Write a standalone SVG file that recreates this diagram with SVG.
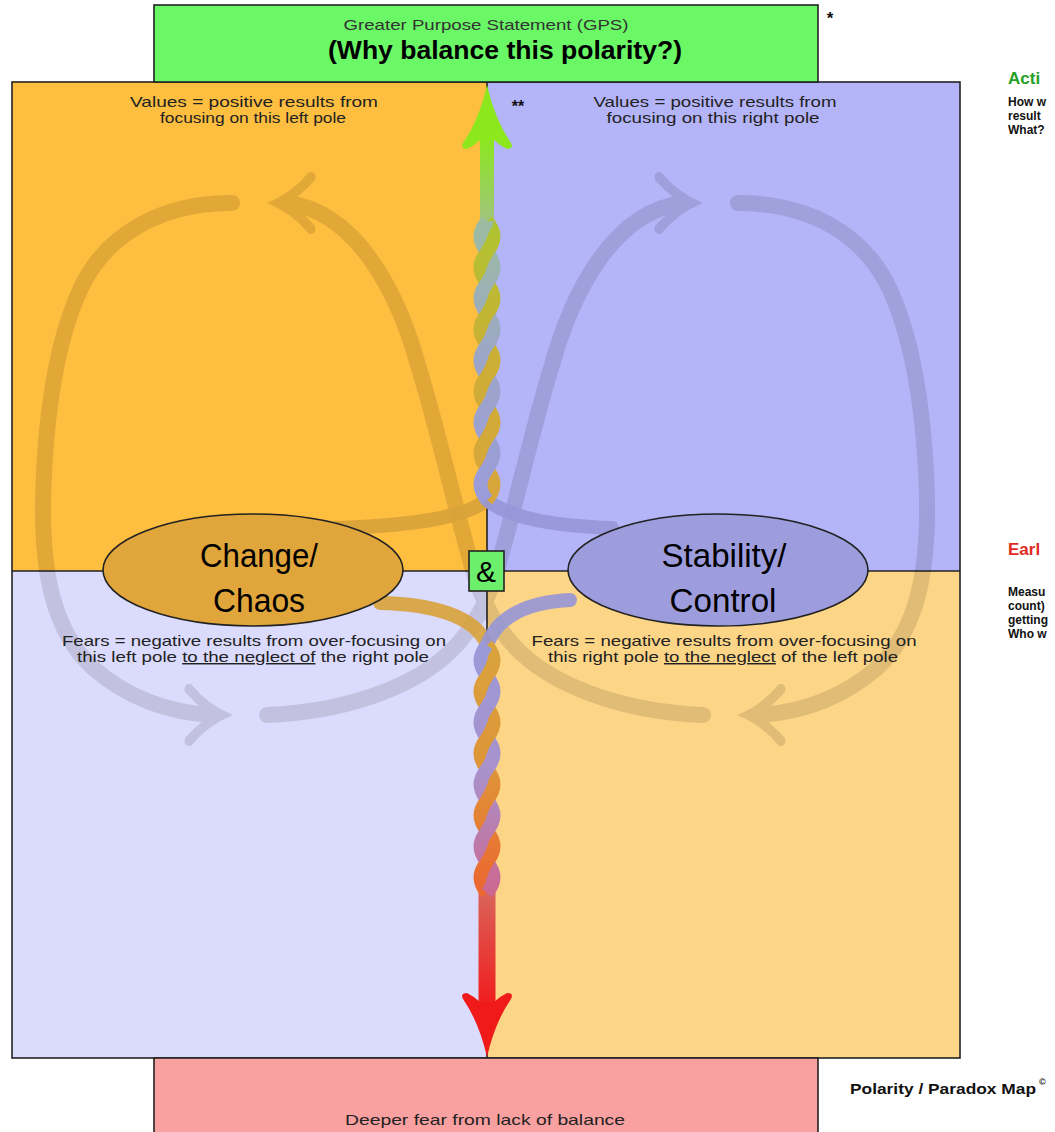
<svg xmlns="http://www.w3.org/2000/svg" width="1055" height="1132" viewBox="0 0 1055 1132">
<defs>
<style>
text{font-family:"Liberation Sans",Arial,sans-serif;}
.t{font-size:14.5px;fill:#222;}
.pole{font-family:"Liberation Sans Narrow","Liberation Sans",Arial,sans-serif;font-size:34px;fill:#000;}
.side{font-size:12px;font-weight:bold;fill:#111;}
.loop{fill:none;stroke:#000;stroke-width:16;stroke-linecap:round;}
.conn{fill:none;stroke-width:14;stroke-linecap:round;opacity:0.9;}
.strand{fill:none;stroke-width:13.5;}
.edge{stroke:#222;stroke-width:1.6;}
</style>
<path id="ah" d="M0,0 Q25,-10 42,-31 Q50,-32 48,-23 Q38,-12 30,-6 L30,6 Q38,12 48,23 Q50,32 42,31 Q25,10 0,0 Z"/>
<path id="vh" d="M0,0 Q8,35 24,58 Q27,64 20,64 Q12,60 7,55 L-7,55 Q-12,60 -20,64 Q-27,64 -24,58 Q-8,35 0,0 Z"/>
<linearGradient id="gUp" x1="0" y1="235" x2="0" y2="140" gradientUnits="userSpaceOnUse">
<stop offset="0" stop-color="#A4BE8C"/><stop offset="1" stop-color="#8CE620"/></linearGradient>
<linearGradient id="gDn" x1="0" y1="885" x2="0" y2="1000" gradientUnits="userSpaceOnUse">
<stop offset="0" stop-color="#D8685E"/><stop offset="1" stop-color="#F02020"/></linearGradient>
<linearGradient id="gA" x1="0" y1="500" x2="0" y2="221" gradientUnits="userSpaceOnUse">
<stop offset="0" stop-color="#D9A53C"/><stop offset="0.5" stop-color="#CCAE36"/><stop offset="1" stop-color="#AEC430"/></linearGradient>
<linearGradient id="gB" x1="0" y1="500" x2="0" y2="221" gradientUnits="userSpaceOnUse">
<stop offset="0" stop-color="#9A9CDA"/><stop offset="0.5" stop-color="#9CA6C8"/><stop offset="1" stop-color="#9CBCA0"/></linearGradient>
<linearGradient id="gC" x1="0" y1="645" x2="0" y2="893" gradientUnits="userSpaceOnUse">
<stop offset="0" stop-color="#D9A33C"/><stop offset="0.5" stop-color="#DE9438"/><stop offset="1" stop-color="#EC6630"/></linearGradient>
<linearGradient id="gD" x1="0" y1="645" x2="0" y2="893" gradientUnits="userSpaceOnUse">
<stop offset="0" stop-color="#9A9AD8"/><stop offset="0.5" stop-color="#A892CC"/><stop offset="1" stop-color="#CC6890"/></linearGradient>
</defs>

<g id="quadrants">
<rect x="12" y="82" width="475" height="489" fill="#FEBE40"/>
<rect x="487" y="82" width="473" height="489" fill="#B4B4F9"/>
<rect x="12" y="571" width="475" height="487" fill="#DBDBFD"/>
<rect x="487" y="571" width="473" height="487" fill="#FDD587"/>
<rect x="12" y="82" width="948" height="976" fill="none" class="edge" stroke-width="2"/>
<line x1="487" y1="82" x2="487" y2="1058" class="edge"/>
<line x1="12" y1="571" x2="960" y2="571" class="edge"/>
</g>

<g id="infinity" opacity="0.11" fill="#000">
<path class="loop" d="M232,203 C160,203 105,235 80,290 C55,345 45,420 43,500 C42,570 52,630 93,668 C128,698 170,713 213,715"/>
<path class="loop" d="M267,715 C340,712 410,690 450,652 C475,628 492,595 502,552 C518,495 532,430 552,365 C570,300 610,212 683,203"/>
<path class="loop" d="M738,203 C810,203 865,235 890,290 C915,345 925,420 927,500 C928,570 918,630 877,668 C842,698 800,713 757,715"/>
<path class="loop" d="M703,715 C630,712 560,690 520,652 C495,628 478,595 468,552 C452,495 438,430 418,365 C400,300 360,212 287,203"/>
<use href="#ah" transform="translate(267,203)"/>
<use href="#ah" transform="translate(703,203) scale(-1,1)"/>
<use href="#ah" transform="translate(233,715) scale(-1,1)"/>
<use href="#ah" transform="translate(737,715)"/>
</g>

<g id="connectors">
<path class="conn" stroke="#D8A23A" d="M335,528 C400,526 462,520 487,500"/>
<path class="conn" stroke="#9696D8" d="M612,528 C560,526 512,520 487,500"/>
<path class="conn" stroke="#D8A23A" d="M380,603 C430,604 475,615 487,645"/>
<path class="conn" stroke="#9696D8" d="M570,600 C530,602 498,615 487,645"/>
</g>

<g id="rope-up">
<line x1="487" y1="232" x2="487" y2="140" stroke="url(#gUp)" stroke-width="14" stroke-linecap="round"/>
<path class="strand" stroke="url(#gA)" d="M487,500 Q500,484.5 487,469 T487,438 T487,407 T487,376 T487,345 T487,314 T487,283 T487,252 T487,221"/>
<path class="strand" stroke="url(#gB)" d="M487,500 Q474,484.5 487,469 T487,438 T487,407 T487,376 T487,345 T487,314 T487,283 T487,252 T487,221"/>
<path class="strand" stroke="url(#gB)" d="M480.5,484.5 C480.5,474.2 493.5,463.8 493.5,453.5 M480.5,422.5 C480.5,412.2 493.5,401.8 493.5,391.5 M480.5,360.5 C480.5,350.2 493.5,339.8 493.5,329.5 M480.5,298.5 C480.5,288.2 493.5,277.8 493.5,267.5 M480.5,236.5 C480.5,230 487,225 487,221"/>
<path class="strand" stroke="url(#gA)" d="M480.5,453.5 C480.5,443.2 493.5,432.8 493.5,422.5 M480.5,391.5 C480.5,381.2 493.5,370.8 493.5,360.5 M480.5,329.5 C480.5,319.2 493.5,308.8 493.5,298.5 M480.5,267.5 C480.5,257.2 493.5,246.8 493.5,236.5"/>
<use href="#vh" transform="translate(487,85)" fill="#8CE81C"/>
</g>

<g id="rope-down">
<line x1="487" y1="888" x2="487" y2="1000" stroke="url(#gDn)" stroke-width="17" stroke-linecap="round"/>
<path class="strand" stroke="url(#gC)" d="M487,645 Q500,660.5 487,676 T487,707 T487,738 T487,769 T487,800 T487,831 T487,862 T487,893"/>
<path class="strand" stroke="url(#gD)" d="M487,645 Q474,660.5 487,676 T487,707 T487,738 T487,769 T487,800 T487,831 T487,862 T487,893"/>
<path class="strand" stroke="url(#gC)" d="M480.5,691.5 C480.5,681.2 493.5,670.8 493.5,660.5 M480.5,753.5 C480.5,743.2 493.5,732.8 493.5,722.5 M480.5,815.5 C480.5,805.2 493.5,794.8 493.5,784.5 M480.5,877.5 C480.5,867.2 493.5,856.8 493.5,846.5"/>
<path class="strand" stroke="url(#gD)" d="M480.5,722.5 C480.5,712.2 493.5,701.8 493.5,691.5 M480.5,784.5 C480.5,774.2 493.5,763.8 493.5,753.5 M480.5,846.5 C480.5,836.2 493.5,825.8 493.5,815.5"/>
<use href="#vh" transform="translate(487,1057) scale(1,-1)" fill="#F01A1A"/>
</g>

<g id="gps">
<rect x="154" y="5" width="664" height="77" fill="#6AF866" class="edge"/>
<text x="486" y="30" font-size="15" fill="#333" text-anchor="middle" textLength="285" lengthAdjust="spacingAndGlyphs">Greater Purpose Statement (GPS)</text>
<text x="505" y="59" font-size="26" font-weight="bold" fill="#000" text-anchor="middle" textLength="354" lengthAdjust="spacingAndGlyphs">(Why balance this polarity?)</text>
</g>
<text x="830" y="24" font-size="17" font-weight="bold" fill="#111" text-anchor="middle">*</text>
<text x="518" y="112" font-size="16" font-weight="bold" fill="#111" text-anchor="middle">**</text>

<g id="deeper-fear">
<rect x="154" y="1058" width="664" height="80" fill="#F9A0A0" class="edge"/>
<text class="t" x="485" y="1125" text-anchor="middle" textLength="280" lengthAdjust="spacingAndGlyphs">Deeper fear from lack of balance</text>
</g>

<g id="values-left">
<text class="t" x="254" y="107" text-anchor="middle" textLength="248" lengthAdjust="spacingAndGlyphs">Values = positive results from</text>
<text class="t" x="253" y="123" text-anchor="middle" textLength="186" lengthAdjust="spacingAndGlyphs">focusing on this left pole</text>
</g>
<g id="values-right">
<text class="t" x="715" y="107" text-anchor="middle" textLength="243" lengthAdjust="spacingAndGlyphs">Values = positive results from</text>
<text class="t" x="713" y="123" text-anchor="middle" textLength="213" lengthAdjust="spacingAndGlyphs">focusing on this right pole</text>
</g>
<g id="fears-left">
<text class="t" x="254" y="646" text-anchor="middle" textLength="384" lengthAdjust="spacingAndGlyphs">Fears = negative results from over-focusing on</text>
<text class="t" x="253" y="662" text-anchor="middle" textLength="352" lengthAdjust="spacingAndGlyphs">this left pole <tspan text-decoration="underline">to the neglect of</tspan> the right pole</text>
</g>
<g id="fears-right">
<text class="t" x="724" y="646" text-anchor="middle" textLength="385" lengthAdjust="spacingAndGlyphs">Fears = negative results from over-focusing on</text>
<text class="t" x="723" y="662" text-anchor="middle" textLength="350" lengthAdjust="spacingAndGlyphs">this right pole <tspan text-decoration="underline">to the neglect</tspan> of the left pole</text>
</g>

<g id="pole-left">
<ellipse cx="253" cy="570" rx="150" ry="56" fill="#E1A63B" class="edge"/>
<text class="pole" x="259" y="567" text-anchor="middle" textLength="118" lengthAdjust="spacingAndGlyphs">Change/</text>
<text class="pole" x="259" y="612" text-anchor="middle" textLength="92" lengthAdjust="spacingAndGlyphs">Chaos</text>
</g>
<g id="pole-right">
<ellipse cx="718" cy="570" rx="150" ry="56" fill="#9D9DDE" class="edge"/>
<text class="pole" x="724" y="567" text-anchor="middle" textLength="125" lengthAdjust="spacingAndGlyphs">Stability/</text>
<text class="pole" x="723" y="612" text-anchor="middle" textLength="107" lengthAdjust="spacingAndGlyphs">Control</text>
</g>
<g id="and">
<rect x="469" y="551" width="35" height="40" fill="#6CF06C" class="edge"/>
<text x="486" y="582" font-size="30" fill="#000" text-anchor="middle">&amp;</text>
</g>

<g id="action-steps">
<text x="1008" y="84" font-size="17" font-weight="bold" fill="#25A025">Acti</text>
<text class="side" x="1008" y="106">How w</text>
<text class="side" x="1008" y="120">result</text>
<text class="side" x="1008" y="134">What?</text>
</g>
<g id="early-warnings">
<text x="1008" y="555" font-size="17" font-weight="bold" fill="#E22A20">Earl</text>
<text class="side" x="1008" y="596">Measu</text>
<text class="side" x="1008" y="610">count)</text>
<text class="side" x="1008" y="624">getting</text>
<text class="side" x="1008" y="638">Who w</text>
</g>
<g id="title">
<text x="850" y="1094" font-size="14" font-weight="bold" fill="#111" textLength="186" lengthAdjust="spacingAndGlyphs">Polarity / Paradox Map</text>
<text x="1039" y="1085" font-size="9" font-weight="bold" fill="#111">©</text>
</g>
</svg>
